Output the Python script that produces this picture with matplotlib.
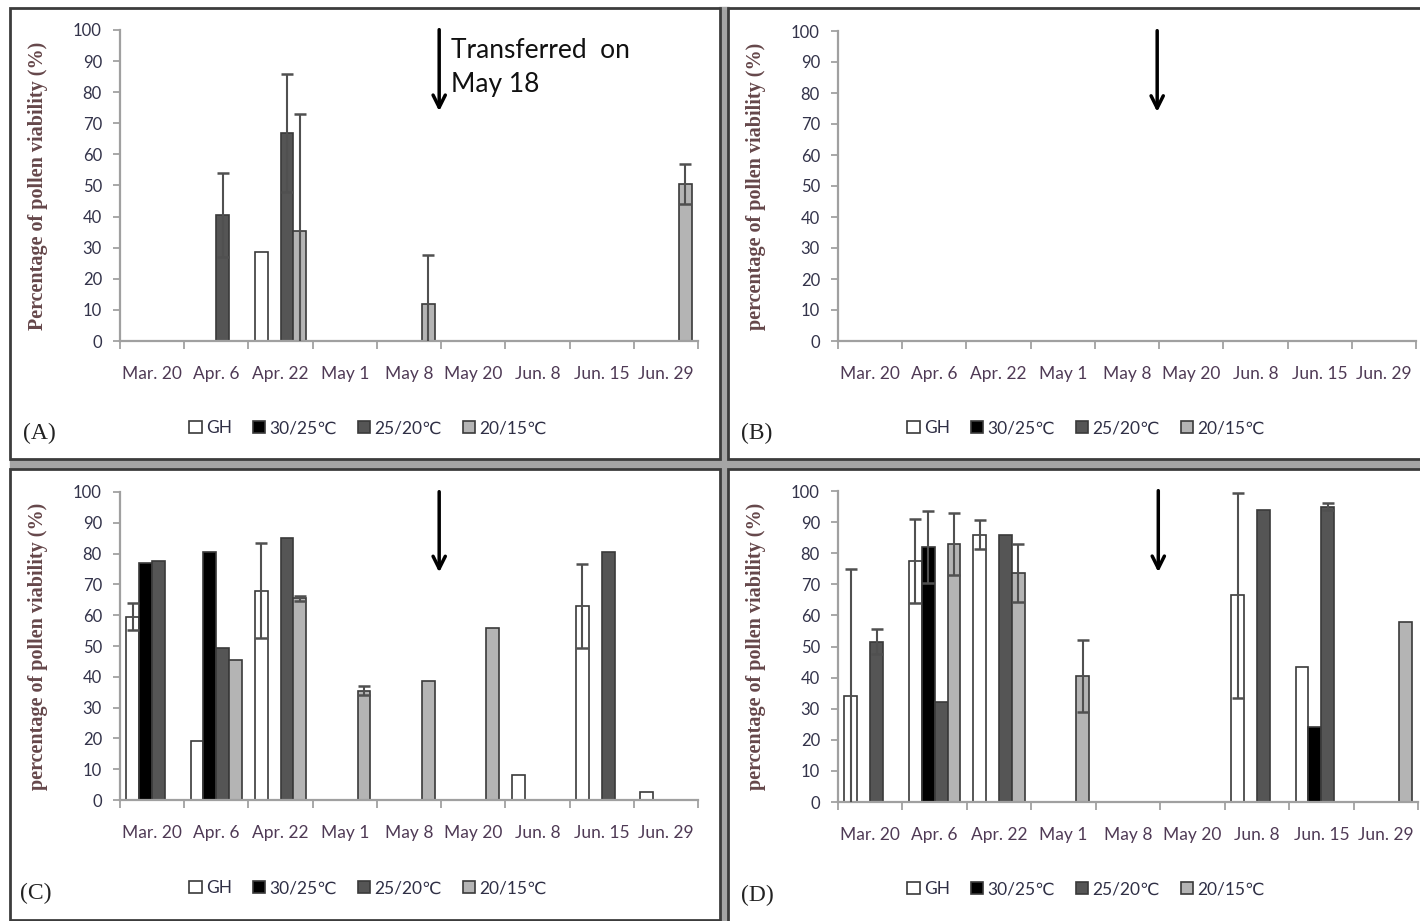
import numpy as np
import matplotlib
matplotlib.use("Agg")
import matplotlib.pyplot as plt
from matplotlib.patches import Rectangle

# ---- data (nan = no bar) ----
n = np.nan
dates = ['Mar. 20', 'Apr. 6', 'Apr. 22', 'May 1', 'May 8', 'May 20', 'Jun. 8', 'Jun. 15', 'Jun. 29']
series = ['GH', '30/25℃', '25/20℃', '20/15℃']

# panel A
a_gh = [n, n, 28.5, n, n, n, n, n, n]
a_30 = [n, n, n, n, n, n, n, n, n]
a_25 = [n, 40.5, 67, n, n, n, n, n, n]
a_20 = [n, n, 35.5, n, 12, n, n, n, 50.5]
a_gh_err = [n, n, n, n, n, n, n, n, n]
a_30_err = [n, n, n, n, n, n, n, n, n]
a_25_err = [n, 13.5, 19, n, n, n, n, n, n]
a_20_err = [n, n, 37.5, n, 15.5, n, n, n, 6.3]

# panel B (no viable pollen recorded)
b_gh = [n, n, n, n, n, n, n, n, n]
b_30 = [n, n, n, n, n, n, n, n, n]
b_25 = [n, n, n, n, n, n, n, n, n]
b_20 = [n, n, n, n, n, n, n, n, n]

# panel C
c_gh = [59.5, 19, 68, n, n, n, 8, 63, 2.5]
c_30 = [77, 80.5, n, n, n, n, n, n, n]
c_25 = [77.5, 49.5, 85, n, n, n, n, 80.5, n]
c_20 = [n, 45.5, 65.5, 35.5, 38.5, 56, n, n, n]
c_gh_err = [4.3, n, 15.5, n, n, n, n, 13.5, n]
c_30_err = [n, n, n, n, n, n, n, n, n]
c_25_err = [n, n, n, n, n, n, n, n, n]
c_20_err = [n, n, 0.8, 1.5, n, n, n, n, n]

# panel D
d_gh = [34, 77.5, 86, n, n, n, 66.5, 43.5, n]
d_30 = [n, 82, n, n, n, n, n, 24, n]
d_25 = [51.5, 32, 86, n, n, n, 94, 95, n]
d_20 = [n, 83, 73.5, 40.5, n, n, n, n, 58]
d_gh_err = [41, 13.5, 4.7, n, n, n, 33, n, n]
d_30_err = [n, 11.5, n, n, n, n, n, n, n]
d_25_err = [4, n, n, n, n, n, n, 1, n]
d_20_err = [n, 10, 9.3, 11.5, n, n, n, n, n]

colors = ['white', 'black', '#555555', '#b4b4b4']
font = ['Lato', 'DejaVu Sans']
serif = ['Liberation Serif', 'DejaVu Serif']
plt.rcParams['font.family'] = font

fig = plt.figure(figsize=(14.2, 9.21), dpi=100)
W, H = 1420, 921


def fx(px):
    return px / W


def fy(py):
    return 1 - py / H


# panel frames and gray separators
fig.patches.append(Rectangle((fx(10), fy(469)), fx(1410), fy(459) - fy(469),
                             transform=fig.transFigure, color='#a5a5a5', zorder=-2))
fig.patches.append(Rectangle((fx(719), 0), fx(10), 1 - 7 / H,
                             transform=fig.transFigure, color='#a5a5a5', zorder=-2))
for (x0, y0, x1, y1) in [(10, 8, 720, 459), (728, 8, 1425, 459),
                         (10, 469, 720, 920), (728, 469, 1425, 925)]:
    fig.patches.append(Rectangle((fx(x0), fy(y1)), fx(x1 - x0), fy(y0) - fy(y1),
                                 transform=fig.transFigure, facecolor='white',
                                 edgecolor='#3c3c3c', lw=2, zorder=-1))

panels = [
    ('(A)', 'Percentage of pollen viability (%)', (120, 698, 341, 30),
     [a_gh, a_30, a_25, a_20], [a_gh_err, a_30_err, a_25_err, a_20_err], (23, 433), (368, 428)),
    ('(B)', 'percentage of pollen viability (%)', (838, 1416, 341, 31),
     [b_gh, b_30, b_25, b_20], None, (741, 433), (1086, 428)),
    ('(C)', 'percentage of pollen viability (%)', (120, 698, 800, 492),
     [c_gh, c_30, c_25, c_20], [c_gh_err, c_30_err, c_25_err, c_20_err], (20, 893), (368, 888)),
    ('(D)', 'percentage of pollen viability (%)', (838, 1418, 802, 491),
     [d_gh, d_30, d_25, d_20], [d_gh_err, d_30_err, d_25_err, d_20_err], (741, 895), (1086, 889)),
]

x = np.arange(len(dates))
width = 0.2
offsets = [-0.3, -0.1, 0.1, 0.3]
transfer_x = 4.47

for tag, ylabel, (l, r, b, t), vals, errs, tagpos, legpos in panels:
    ax = fig.add_axes([fx(l), fy(b), fx(r - l), fy(t) - fy(b)])
    for i in range(4):
        v = np.array(vals[i], dtype=float)
        ax.bar(x + offsets[i], v, width, color=colors[i], edgecolor='#3a3a3a',
               linewidth=1.2, label=series[i], zorder=2)
        if errs is not None:
            e = np.array(errs[i], dtype=float)
            ax.errorbar(x + offsets[i], v, yerr=e, fmt='none', ecolor='#505050',
                        elinewidth=1.5, capsize=4, capthick=1.8, zorder=3)
    ax.set_xlim(-0.5, 8.5)
    ax.set_ylim(0, 100)
    ax.set_yticks(np.arange(0, 101, 10))
    ax.set_xticks(np.arange(-0.5, 9, 1))
    ax.set_xticklabels([])
    ax.set_xticks(x, minor=True)
    ax.set_xticklabels(dates, minor=True)
    ax.tick_params(axis='x', which='minor', length=0, pad=18, labelsize=12.5, labelcolor='#4f3a55')
    ax.tick_params(axis='x', which='major', length=6, width=1.2, color='#999999', direction='out')
    ax.tick_params(axis='y', length=5, width=1.2, color='#999999', direction='out',
                   labelsize=12, labelcolor='#33334a', pad=8)
    for s in ['top', 'right']:
        ax.spines[s].set_visible(False)
    for s in ['left', 'bottom']:
        ax.spines[s].set_color('#a0a0a0')
        ax.spines[s].set_linewidth(1.6)
    ax.set_ylabel(ylabel, family=serif, fontsize=14.5, fontweight='semibold', color='#65474a')
    ax.yaxis.set_label_coords(-0.125, 0.5)

    # transfer arrow
    ax.annotate('', xy=(transfer_x, 73), xytext=(transfer_x, 101),
                arrowprops=dict(arrowstyle='->', lw=2.5, color='black', mutation_scale=22),
                annotation_clip=False)
    if tag == '(A)':
        ax.text(4.66, 97.5, 'Transferred  on\nMay 18', va='top', ha='left', fontsize=19,
                linespacing=1.45, color='#111111')

    leg = ax.legend(loc='center', bbox_to_anchor=(fx(legpos[0]), fy(legpos[1])),
                    bbox_transform=fig.transFigure, ncol=4, frameon=False, fontsize=12.5,
                    handlelength=0.7, handleheight=0.7, handletextpad=0.25, columnspacing=1.2)
    for txt in leg.get_texts():
        txt.set_color('#2f2f45')

    fig.text(fx(tagpos[0]), fy(tagpos[1]), tag, family=serif,
             fontsize=17, va='center', ha='left', color='#222222')

fig.savefig('out.png', dpi=100)
